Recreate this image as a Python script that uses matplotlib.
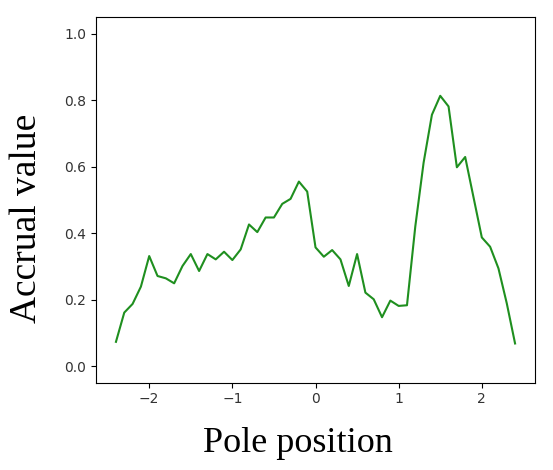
import matplotlib.pyplot as plt
import numpy as np

# pole positions, step 0.1 from -2.4 to 2.4
pole_position = [-2.4, -2.3, -2.2, -2.1, -2.0, -1.9, -1.8, -1.7, -1.6, -1.5,
                 -1.4, -1.3, -1.2, -1.1, -1.0, -0.9, -0.8, -0.7, -0.6, -0.5,
                 -0.4, -0.3, -0.2, -0.1, 0.0, 0.1, 0.2, 0.3, 0.4, 0.5,
                 0.6, 0.7, 0.8, 0.9, 1.0, 1.1, 1.2, 1.3, 1.4, 1.5,
                 1.6, 1.7, 1.8, 1.9, 2.0, 2.1, 2.2, 2.3, 2.4]
accrual = [0.073, 0.161, 0.187, 0.239, 0.331, 0.271, 0.264, 0.249, 0.301, 0.337,
           0.286, 0.337, 0.321, 0.344, 0.319, 0.351, 0.426, 0.403, 0.447, 0.447,
           0.488, 0.503, 0.555, 0.525, 0.357, 0.329, 0.349, 0.321, 0.241, 0.337,
           0.221, 0.201, 0.147, 0.197, 0.181, 0.183, 0.420, 0.612, 0.756, 0.813,
           0.781, 0.598, 0.629, 0.508, 0.387, 0.359, 0.294, 0.189, 0.068]

fig = plt.figure(figsize=(5.53, 4.7), dpi=100)
ax = fig.add_axes([0.1736, 0.1857, 0.7939, 0.7781])
ax.plot(pole_position, accrual, color='#1f8f1f', linewidth=1.5)
ax.set_ylim(-0.05, 1.05)
ax.set_xticks([-2, -1, 0, 1, 2])
ax.set_yticks([0.0, 0.2, 0.4, 0.6, 0.8, 1.0])
ax.tick_params(labelsize=10, labelcolor='#333333')

# axis titles sit off-centre in the original, so place them on the figure
fig.text(0.539, 0.038, 'Pole position', family='Liberation Serif', fontsize=26,
         ha='center', va='baseline')
fig.text(0.048, 0.536, 'Accrual value', family='Liberation Serif', fontsize=27,
         ha='center', va='center', rotation=90)
fig.savefig('out.png', dpi=100)
